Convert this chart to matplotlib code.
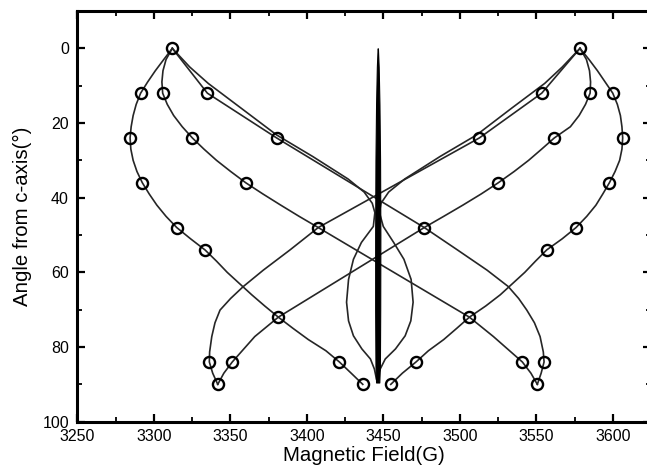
import matplotlib
matplotlib.use("Agg")
import matplotlib.pyplot as plt
from matplotlib.ticker import MultipleLocator

plt.rcParams.update({
    "font.family": ["Liberation Sans", "DejaVu Sans"],
    "font.size": 11.5,
})

# ---- measured points (field in G, angle from c-axis in degrees) ----
exp_angle = [0, 0,
             12, 12, 12, 12, 12, 12,
             24, 24, 24, 24, 24, 24,
             36, 36, 36, 36,
             48, 48, 48, 48,
             54, 54,
             72, 72,
             84, 84, 84, 84, 84, 84,
             90, 90, 90, 90]
exp_field = [3312.1, 3578.6,
             3291.4, 3305.8, 3335.0, 3553.6, 3585.2, 3600.0,
             3284.5, 3325.2, 3380.3, 3512.8, 3561.8, 3606.5,
             3292.5, 3360.1, 3525.2, 3597.8,
             3315.0, 3407.5, 3476.8, 3576.0,
             3333.5, 3556.8,
             3381.4, 3506.3,
             3336.3, 3351.3, 3421.3, 3471.4, 3540.9, 3555.1,
             3341.8, 3436.6, 3454.9, 3550.7]

# ---- calculated curves ----
l1_angle = [0, 3, 6, 9, 12, 15, 18, 21, 24, 27, 30, 33, 36, 39, 42, 45, 48,
            51, 54, 57, 60, 63, 66, 69, 72, 75, 78, 81, 84, 87, 90]
l1_field = [3312.1, 3306.5, 3301.0, 3296.0, 3291.4, 3288.5, 3286.5, 3285.2,
            3284.5, 3285.0, 3286.5, 3289.0, 3292.5, 3297.0, 3302.0, 3308.0,
            3315.0, 3324.0, 3333.5, 3341.0, 3348.0, 3356.0, 3364.0, 3372.5,
            3381.4, 3391.0, 3401.0, 3412.5, 3421.3, 3429.0, 3436.6]
r1_angle = l1_angle
r1_field = [3578.6, 3584.5, 3590.0, 3595.0, 3600.0, 3603.0, 3605.0, 3606.0,
            3606.5, 3606.0, 3604.5, 3601.5, 3597.8, 3593.5, 3589.0, 3583.0,
            3576.0, 3567.0, 3556.8, 3549.5, 3542.5, 3534.5, 3526.5, 3517.0,
            3506.3, 3498.0, 3489.5, 3479.5, 3471.4, 3462.5, 3454.9]

l2_angle = [0, 3, 6, 9, 12, 15, 18, 21, 24, 27, 30, 33, 36, 39, 42, 45, 48,
            72, 77.2, 84, 87, 90]
l2_field = [3312.1, 3308.0, 3306.0, 3305.3, 3305.8, 3308.8, 3313.0, 3318.6,
            3325.2, 3332.8, 3341.0, 3350.3, 3360.1, 3371.3, 3383.0, 3395.0,
            3407.5, 3506.3, 3522.0, 3540.9, 3546.5, 3550.7]
r2_angle = l2_angle
r2_field = [3578.6, 3582.8, 3584.8, 3585.5, 3585.2, 3582.2, 3578.0, 3572.3,
            3561.8, 3553.5, 3545.0, 3535.5, 3525.2, 3514.0, 3502.0, 3489.5,
            3476.8, 3381.4, 3366.0, 3351.3, 3345.8, 3341.8]

c1_angle = [0, 12, 24, 48, 54, 59.4, 63.8, 67.0, 70.1, 73.5, 77.2, 81.3, 84,
            87, 90]
c1_field = [3312.1, 3335.0, 3380.3, 3476.8, 3498.5, 3517.8, 3531.7, 3538.5,
            3543.8, 3548.8, 3552.5, 3554.6, 3555.1, 3553.2, 3550.7]
c1r_angle = c1_angle
c1r_field = [3578.6, 3553.6, 3512.8, 3407.5, 3389.0, 3371.6, 3358.5, 3350.2,
             3343.3, 3340.0, 3337.9, 3336.5, 3336.3, 3338.5, 3341.8]

c2_angle = [0, 5, 9.4, 16, 23.2, 29, 35, 38.5, 41.5, 44, 47.7, 52, 56.5,
            61.9, 68, 73, 77, 80.5, 83.2, 85.9, 88.5]
c2_field = [3312.1, 3323.5, 3335.6, 3357.0, 3380.3, 3404.0, 3427.0, 3437.5,
            3442.8, 3444.5, 3443.5, 3435.7, 3430.5, 3427.3, 3426.0, 3427.3,
            3430.5, 3436.0, 3441.6, 3444.2, 3445.5]
c2r_angle = c2_angle
c2r_field = [3578.6, 3567.0, 3555.5, 3534.0, 3511.0, 3487.0, 3464.0, 3453.5,
             3448.5, 3447.5, 3450.0, 3456.8, 3463.5, 3468.2, 3469.5, 3468.0,
             3464.3, 3458.0, 3451.3, 3448.0, 3445.8]

# narrow central spindle
sp_angle = [0, 5, 15, 30, 50, 70, 85, 89.5]
sp_left = [3446.3, 3445.8, 3445.3, 3444.9, 3444.7, 3444.7, 3444.9, 3445.3]
sp_right = [3446.5, 3447.0, 3447.5, 3447.9, 3448.1, 3448.0, 3447.8, 3447.4]

curves = [(l1_field, l1_angle), (r1_field, r1_angle),
          (l2_field, l2_angle), (r2_field, r2_angle),
          (c1_field, c1_angle), (c1r_field, c1r_angle),
          (c2_field, c2_angle), (c2r_field, c2r_angle)]

W, H = 647, 476
fig = plt.figure(figsize=(W / 100, H / 100), dpi=100)
x0, x1, y0, y1 = 77.3, 651.0, 11.0, 421.7        # axes box in pixels
ax = fig.add_axes([x0 / W, 1 - y1 / H, (x1 - x0) / W, (y1 - y0) / H])

for fx, ang in curves:
    ax.plot(fx, ang, color="0.15", lw=1.2, zorder=2)

ax.fill_betweenx(sp_angle, sp_left, sp_right, color="k", lw=0.8, zorder=3)

ax.plot(exp_field, exp_angle, "o", ms=8, mfc="none", mec="k", mew=1.7,
        zorder=4)

ax.set_xlim(3250, 3625)
ax.set_ylim(100, -10)
ax.xaxis.set_major_locator(MultipleLocator(50))
ax.xaxis.set_minor_locator(MultipleLocator(25))
ax.yaxis.set_minor_locator(MultipleLocator(10))
ax.set_yticks([0, 20, 40, 60, 80, 100])
ax.tick_params(which="both", direction="in", top=True, right=True)
ax.tick_params(which="major", length=6, width=1.6, labelsize=11.5)
ax.tick_params(axis="x", which="major", pad=5)
ax.tick_params(axis="y", which="major", pad=6)
ax.tick_params(which="minor", length=3.5, width=1.3)
for sp in ax.spines.values():
    sp.set_linewidth(2.2)

ax.set_xlabel("Magnetic Field(G)", fontsize=14.7)
ax.set_ylabel("Angle from c-axis(°)", fontsize=14.7)
ax.xaxis.set_label_coords(0.5, -0.058)
ax.yaxis.set_label_coords(-0.079, 0.5)

fig.savefig("out.png", dpi=100)
